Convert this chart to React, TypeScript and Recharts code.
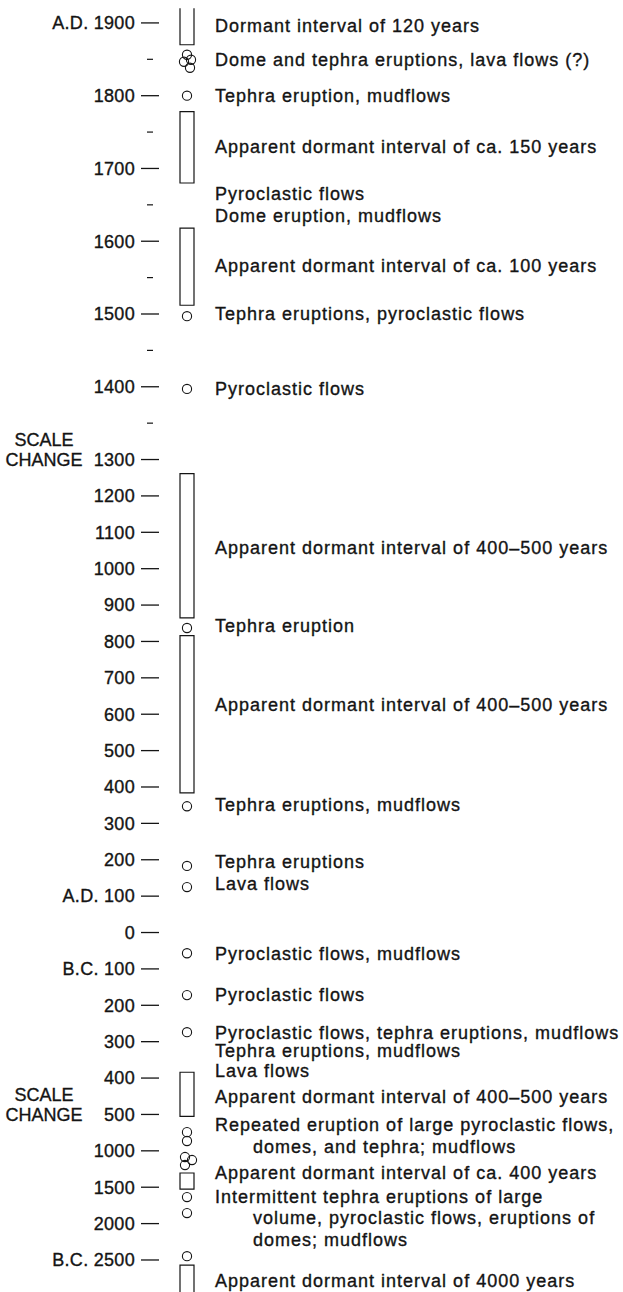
import { ScatterChart, Scatter, XAxis, YAxis, ReferenceArea } from 'recharts'

// Years: A.D. positive, B.C. negative
const majorYears = [
  1900, 1800, 1700, 1600, 1500, 1400, 1300, 1200, 1100, 1000, 900, 800, 700, 600,
  500, 400, 300, 200, 100, 0, -100, -200, -300, -400, -500, -1000, -1500, -2000, -2500,
]
const majorLabels = [
  'A.D. 1900', '1800', '1700', '1600', '1500', '1400', '1300', '1200', '1100', '1000',
  '900', '800', '700', '600', '500', '400', '300', '200', 'A.D. 100', '0', 'B.C. 100',
  '200', '300', '400', '500', '1000', '1500', '2000', 'B.C. 2500',
]
const minorYears = [1850, 1750, 1650, 1550, 1450, 1350]
const scaleChangeYears = [1300, -500]

// dormant intervals (boxes)
const dormant = [
  { from: 1870, to: 1920, open: 'top' },
  { from: 1680, to: 1778 },
  { from: 1512, to: 1618 },
  { from: 865, to: 1261 },
  { from: 384, to: 816 },
  { from: -527, to: -384 },
  { from: -1525, to: -1305 },
  { from: -3000, to: -2570, open: 'bottom' },
]

// eruptive events (circles), count = circles drawn in the cluster
const eruptions = [
  { year: 1848, count: 4 },
  { year: 1800, count: 1 },
  { year: 1497, count: 1 },
  { year: 1397, count: 1 },
  { year: 837, count: 1 },
  { year: 347, count: 1 },
  { year: 183, count: 1 },
  { year: 125, count: 1 },
  { year: -57, count: 1 },
  { year: -172, count: 1 },
  { year: -274, count: 1 },
  { year: -743, count: 1 },
  { year: -865, count: 1 },
  { year: -1140, count: 3 },
  { year: -1635, count: 1 },
  { year: -1855, count: 1 },
  { year: -2448, count: 1 },
]

const notes = [
  { year: 1896, lines: ['Dormant interval of 120 years'] },
  { year: 1849, lines: ['Dome and tephra eruptions, lava flows (?)'] },
  { year: 1800, lines: ['Tephra eruption, mudflows'] },
  { year: 1730, lines: ['Apparent dormant interval of ca. 150 years'] },
  { year: 1665, lines: ['Pyroclastic flows'] },
  { year: 1635, lines: ['Dome eruption, mudflows'] },
  { year: 1566, lines: ['Apparent dormant interval of ca. 100 years'] },
  { year: 1501, lines: ['Tephra eruptions, pyroclastic flows'] },
  { year: 1398, lines: ['Pyroclastic flows'] },
  { year: 1059, lines: ['Apparent dormant interval of 400–500 years'] },
  { year: 842, lines: ['Tephra eruption'] },
  { year: 625, lines: ['Apparent dormant interval of 400–500 years'] },
  { year: 350, lines: ['Tephra eruptions, mudflows'] },
  { year: 194, lines: ['Tephra eruptions'] },
  { year: 133, lines: ['Lava flows'] },
  { year: -57, lines: ['Pyroclastic flows, mudflows'] },
  { year: -172, lines: ['Pyroclastic flows'] },
  { year: -276, lines: ['Pyroclastic flows, tephra eruptions, mudflows'] },
  { year: -326, lines: ['Tephra eruptions, mudflows'] },
  { year: -381, lines: ['Lava flows'] },
  { year: -450, lines: ['Apparent dormant interval of 400–500 years'] },
  { year: -645, lines: ['Repeated eruption of large pyroclastic flows,', 'domes, and tephra; mudflows'] },
  { year: -1305, lines: ['Apparent dormant interval of ca. 400 years'] },
  {
    year: -1625,
    lines: ['Intermittent tephra eruptions of large', 'volume, pyroclastic flows, eruptions of', 'domes; mudflows'],
  },
  { year: -2780, lines: ['Apparent dormant interval of 4000 years'] },
]

// the time axis changes scale twice: doubled above A.D. 1300, 1/5 below 500 B.C.
function pos(year: number) {
  if (year >= 1300) return 1300 + (year - 1300) * 2
  if (year >= -500) return year
  return -500 + (year + 500) / 5
}

const FONT = "'Liberation Sans', Arial, Helvetica, sans-serif"
const INK = '#141414'
const COL = 17

const tickTable = [
  ...majorYears.map((y, i) => ({ p: pos(y), label: majorLabels[i], year: y })),
  ...minorYears.map((y) => ({ p: pos(y), label: null as string | null, year: y })),
]

const textStyle = { fontSize: 18, fontFamily: FONT, fill: INK, stroke: INK, strokeWidth: 0.35 }

function YearTick({ x, y, payload }: any) {
  const t = tickTable.find((d) => d.p === payload.value)
  if (!t) return null
  if (t.label === null) {
    return <line x1={x - 23} x2={x - 17} y1={y} y2={y} stroke={INK} strokeWidth={1.2} />
  }
  const change = scaleChangeYears.includes(t.year)
  return (
    <g>
      <text x={x - 35} y={y} dy="0.35em" textAnchor="end" letterSpacing={0.3} {...textStyle}>
        {t.label}
      </text>
      <line x1={x - 29} x2={x - 11} y1={y} y2={y} stroke={INK} strokeWidth={1.3} />
      {change && (
        <>
          <text x={x - 126} y={y - 20} dy="0.35em" textAnchor="middle" {...textStyle}>
            SCALE
          </text>
          <text x={x - 126} y={y} dy="0.35em" textAnchor="middle" {...textStyle}>
            CHANGE
          </text>
        </>
      )}
    </g>
  )
}

const clusters: Record<number, number[][]> = {
  1: [[0, 0]],
  3: [[-2, -4], [5, -1], [-2, 4]],
  4: [[0, -6], [-3, 1], [4, -1], [3, 7]],
}

function EruptionMark({ cx, cy, payload }: any) {
  const offs = clusters[payload.count] || clusters[1]
  return (
    <g>
      {offs.map(([dx, dy], i) => (
        <circle key={i} cx={cx + dx} cy={cy + dy} r={4.6} fill="none" stroke={INK} strokeWidth={1.1} />
      ))}
    </g>
  )
}

function NoteText({ cx, cy, payload }: any) {
  return (
    <g>
      {payload.lines.map((line: string, i: number) => (
        <text key={i} x={cx + (i === 0 ? 28 : 66)} y={cy + i * 21.5} dy="0.35em" letterSpacing={1} {...textStyle}>
          {line}
        </text>
      ))}
    </g>
  )
}

function DormantBox({ x, y, width, height, open }: any) {
  const c = x + width / 2
  const l = c - 7
  const r = c + 7
  const t = y
  const b = y + height
  let d = `M${l},${t} L${l},${b} L${r},${b} L${r},${t} Z`
  if (open === 'top') d = `M${l},${t} L${l},${b} L${r},${b} L${r},${t}`
  if (open === 'bottom') d = `M${l},${b} L${l},${t} L${r},${t} L${r},${b}`
  return <path d={d} fill="none" stroke={INK} strokeWidth={1.2} />
}

export default function App() {
  const eruptionData = eruptions.map((e) => ({ x: COL, y: pos(e.year), count: e.count }))
  const noteData = notes.map((n) => ({ x: COL, y: pos(n.year), lines: n.lines }))
  return (
    <div style={{ width: 623, height: 1292, background: 'white' }}>
      <style>{'body{margin:0}'}</style>
      <ScatterChart width={623} height={1292} margin={{ top: 0, right: 0, bottom: 0, left: 0 }}>
        <XAxis type="number" dataKey="x" domain={[0, 453]} hide allowDataOverflow />
        <YAxis
          type="number"
          dataKey="y"
          width={170}
          domain={[-988, 2563]}
          allowDataOverflow
          ticks={tickTable.map((t) => t.p)}
          interval={0}
          axisLine={false}
          tickLine={false}
          tickSize={0}
          tickMargin={0}
          tick={<YearTick />}
        />
        {dormant.map((d, i) => (
          <ReferenceArea
            key={i}
            x1={COL - 1}
            x2={COL + 1}
            y1={pos(d.from)}
            y2={pos(d.to)}
            ifOverflow="hidden"
            shape={(props: any) => <DormantBox {...props} open={d.open} />}
          />
        ))}
        <Scatter data={eruptionData} shape={<EruptionMark />} isAnimationActive={false} />
        <Scatter data={noteData} shape={<NoteText />} isAnimationActive={false} />
      </ScatterChart>
    </div>
  )
}
